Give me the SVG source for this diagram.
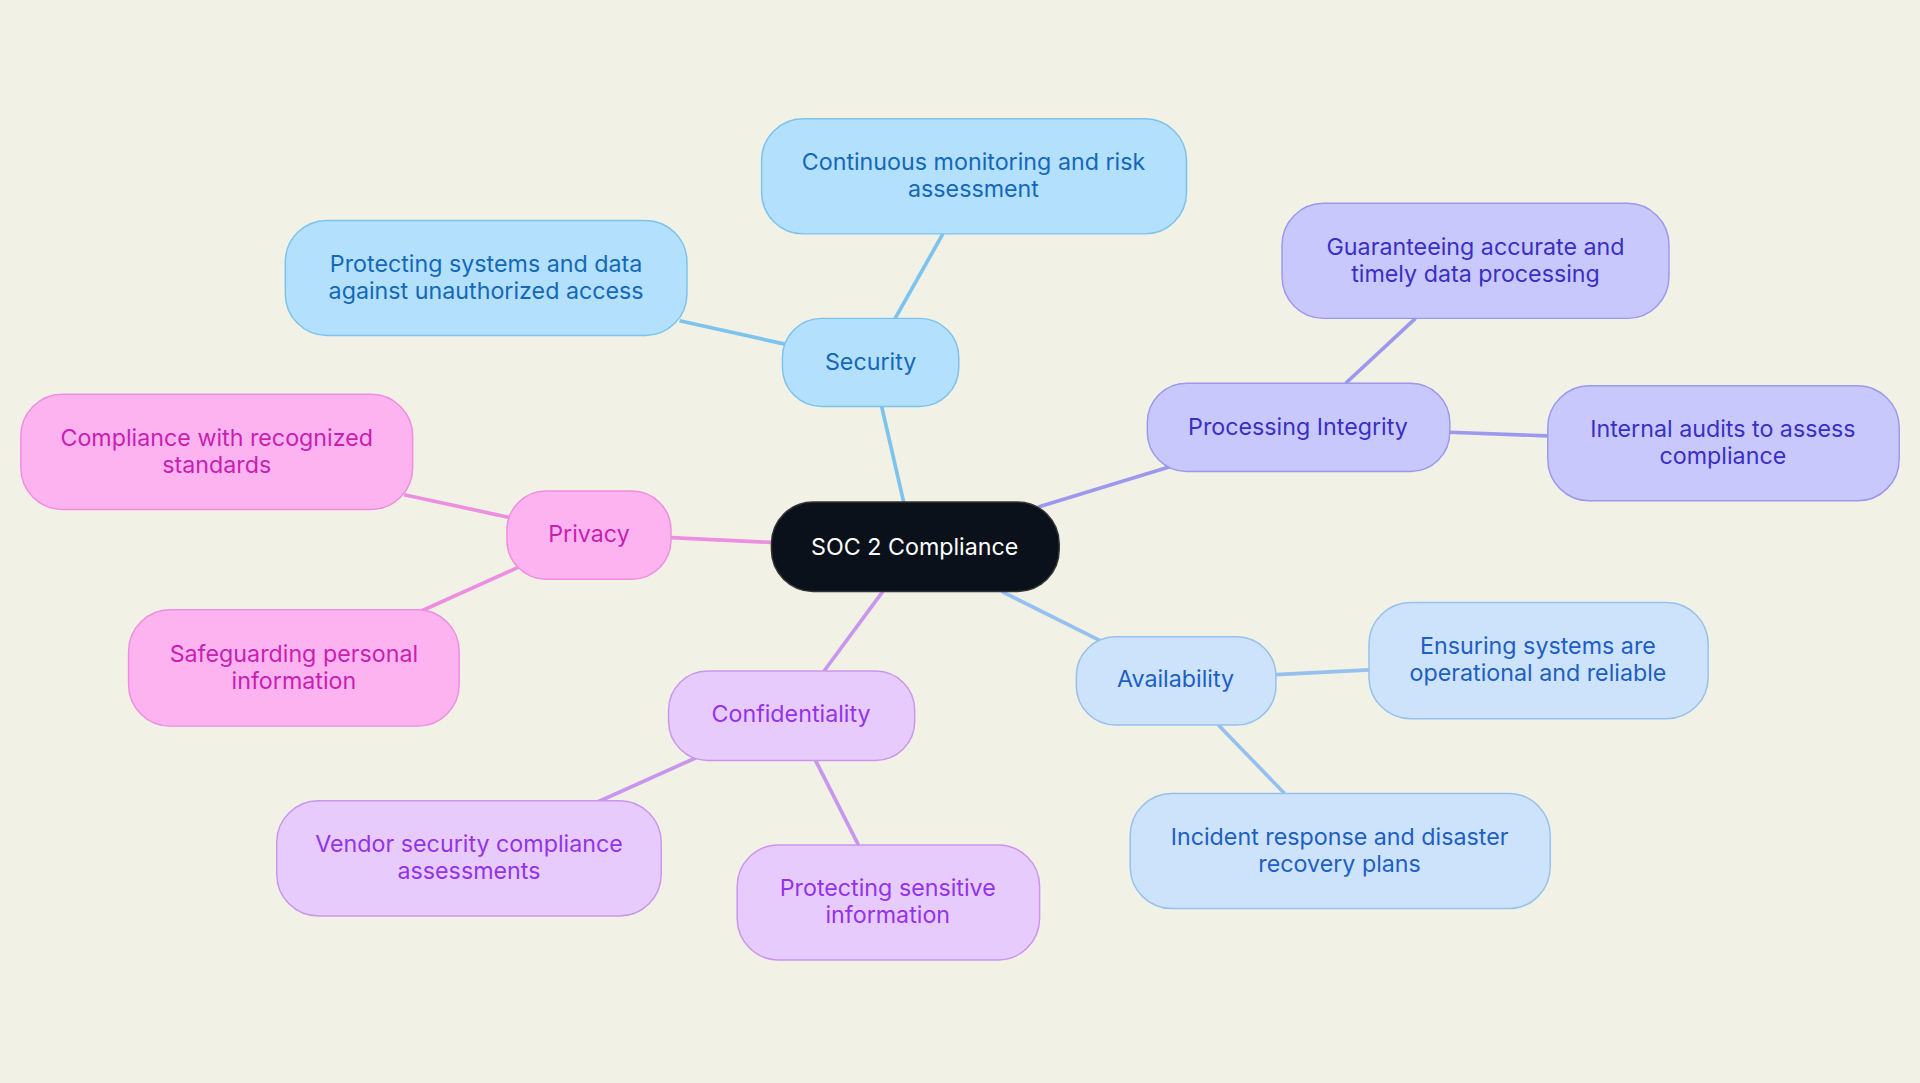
<svg xmlns="http://www.w3.org/2000/svg" width="1920" height="1083" viewBox="0 0 1920 1083">
<style>
text{font-family:Inter,"Noto Sans",sans-serif;font-size:19px;text-anchor:middle}
.sec rect{fill:#b3e0fd;stroke:#7cc3ee}.sec text{fill:#1468b8}
.pi rect{fill:#c9c8fd;stroke:#9b98ee}.pi text{fill:#3a2fc4}
.av rect{fill:#cde3fb;stroke:#96c1ee}.av text{fill:#1d5fc2}
.co rect{fill:#e8cbfd;stroke:#c996ee}.co text{fill:#9333ea}
.pr rect{fill:#feb3f1;stroke:#ee8ee0}.pr text{fill:#c81fb0}
rect{stroke-width:1.2}
#edges line{stroke-width:3}
</style>
<rect width="1920" height="1083" fill="#f2f1e6"/>
<g transform="scale(1.2245)">
<g id="edges">
<line x1="738" y1="410" x2="720" y2="332" stroke="#7cc3ee"/>
<line x1="731" y1="260" x2="770" y2="191" stroke="#7cc3ee"/>
<line x1="641" y1="281" x2="555" y2="262" stroke="#7cc3ee"/>
<line x1="848" y1="414" x2="956" y2="381" stroke="#9b98ee"/>
<line x1="1099" y1="313" x2="1156" y2="260" stroke="#9b98ee"/>
<line x1="1184" y1="353" x2="1264" y2="356" stroke="#9b98ee"/>
<line x1="818" y1="483" x2="898" y2="523" stroke="#96c1ee"/>
<line x1="1042" y1="551" x2="1118" y2="547" stroke="#96c1ee"/>
<line x1="995" y1="592" x2="1049" y2="648" stroke="#96c1ee"/>
<line x1="721" y1="483" x2="673" y2="548" stroke="#c996ee"/>
<line x1="568" y1="619" x2="488" y2="655" stroke="#c996ee"/>
<line x1="666" y1="621" x2="701" y2="690" stroke="#c996ee"/>
<line x1="630" y1="443" x2="548" y2="439" stroke="#ee8ee0"/>
<line x1="418" y1="423" x2="330" y2="404" stroke="#ee8ee0"/>
<line x1="424" y1="463" x2="344" y2="499" stroke="#ee8ee0"/>
</g>
<g id="center"><rect x="630" y="410" width="235" height="73" rx="34" fill="#0b111b" stroke="#333"/><text x="747" y="453" fill="#fff">SOC 2 Compliance</text></g>
<g id="security" class="sec"><rect x="639" y="260" width="144" height="72" rx="32"/><text x="711" y="302">Security</text></g>
<g id="sec1" class="sec"><rect x="622" y="97" width="347" height="94" rx="34"/><text x="795" y="139">Continuous monitoring and risk</text><text x="795" y="161">assessment</text></g>
<g id="sec2" class="sec"><rect x="233" y="180" width="328" height="94" rx="34"/><text x="397" y="222">Protecting systems and data</text><text x="397" y="244">against unauthorized access</text></g>
<g id="integrity" class="pi"><rect x="937" y="313" width="247" height="72" rx="32"/><text x="1060" y="355">Processing Integrity</text></g>
<g id="pi1" class="pi"><rect x="1047" y="166" width="316" height="94" rx="34"/><text x="1205" y="208">Guaranteeing accurate and</text><text x="1205" y="230">timely data processing</text></g>
<g id="pi2" class="pi"><rect x="1264" y="315" width="287" height="94" rx="34"/><text x="1407" y="357">Internal audits to assess</text><text x="1407" y="379">compliance</text></g>
<g id="availability" class="av"><rect x="879" y="520" width="163" height="72" rx="32"/><text x="960" y="561">Availability</text></g>
<g id="av1" class="av"><rect x="1118" y="492" width="277" height="95" rx="34"/><text x="1256" y="534">Ensuring systems are</text><text x="1256" y="556">operational and reliable</text></g>
<g id="av2" class="av"><rect x="923" y="648" width="343" height="94" rx="34"/><text x="1094" y="690">Incident response and disaster</text><text x="1094" y="712">recovery plans</text></g>
<g id="confidentiality" class="co"><rect x="546" y="548" width="201" height="73" rx="32"/><text x="646" y="590">Confidentiality</text></g>
<g id="co1" class="co"><rect x="226" y="654" width="314" height="94" rx="34"/><text x="383" y="696">Vendor security compliance</text><text x="383" y="718">assessments</text></g>
<g id="co2" class="co"><rect x="602" y="690" width="247" height="94" rx="34"/><text x="725" y="732">Protecting sensitive</text><text x="725" y="754">information</text></g>
<g id="privacy" class="pr"><rect x="414" y="401" width="134" height="72" rx="32"/><text x="481" y="443">Privacy</text></g>
<g id="pr1" class="pr"><rect x="17" y="322" width="320" height="94" rx="34"/><text x="177" y="364">Compliance with recognized</text><text x="177" y="386">standards</text></g>
<g id="pr2" class="pr"><rect x="105" y="498" width="270" height="95" rx="34"/><text x="240" y="541">Safeguarding personal</text><text x="240" y="563">information</text></g>
</g>
</svg>
